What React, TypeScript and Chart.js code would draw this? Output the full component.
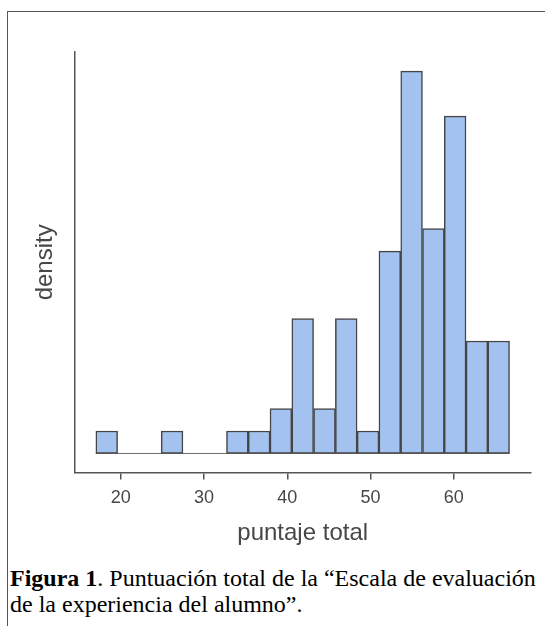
import React, { useEffect, useRef } from "react";
import { Chart, registerables } from "chart.js";

Chart.register(...registerables);

// Histogram bins of "puntaje total" (bin centres) and counts
const binCenters = [18.31, 20.92, 23.54, 26.16, 28.77, 31.39, 34.0, 36.62, 39.23, 41.85, 44.47, 47.08, 49.7, 52.31, 54.93, 57.55, 60.16, 62.78, 65.39];
const binCounts = [1, 0, 0, 1, 0, 0, 1, 1, 2, 6, 2, 6, 1, 9, 17, 10, 15, 5, 5];
const binRange = [17.0, 66.7];
const xTicks = [20, 30, 40, 50, 60];
const xLabel = "puntaje total";
const yLabel = "density";

const FILL = "#a4c2f0";
const EDGE = "#454545";
const AXIS = "#555555";
const TEXT = "#474747";
const SANS = "'Liberation Sans', Arial, sans-serif";

export default function App() {
  const ref = useRef<HTMLCanvasElement | null>(null);

  useEffect(() => {
    if (!ref.current) return;
    const chart = new Chart(ref.current, {
      type: "bar",
      data: {
        datasets: [
          {
            type: "bar",
            data: binCenters.map((x, i) => ({ x, y: binCounts[i] })),
            backgroundColor: FILL,
            borderColor: EDGE,
            borderWidth: 1.5,
            borderSkipped: false,
            barPercentage: 1,
            categoryPercentage: 1,
            order: 1,
          } as any,
          {
            type: "line",
            data: binRange.map((x) => ({ x, y: 0 })),
            borderColor: "#6a6a6a",
            borderWidth: 1,
            pointRadius: 0,
            order: 2,
          } as any,
        ],
      },
      options: {
        animation: false,
        responsive: false,
        devicePixelRatio: 1,
        layout: { padding: { left: 0, right: 14.6, top: 52, bottom: 12.5 } },
        plugins: { legend: { display: false }, tooltip: { enabled: false } },
        scales: {
          x: {
            type: "linear",
            min: 14.5,
            max: 69.2,
            offset: false,
            afterBuildTicks: (scale: any) => {
              scale.ticks = xTicks.map((v) => ({ value: v }));
            },
            grid: {
              display: true,
              offset: false,
              drawOnChartArea: false,
              drawTicks: true,
              tickLength: 7,
              color: AXIS,
              lineWidth: 1.5,
            },
            border: { display: true, color: AXIS, width: 1.5 },
            ticks: {
              color: TEXT,
              font: { family: SANS, size: 18 },
              padding: 8,
              maxRotation: 0,
              autoSkip: false,
            },
            title: {
              display: true,
              text: xLabel,
              color: TEXT,
              font: { family: SANS, size: 24 },
              padding: { top: 1.5, bottom: 0 },
            },
          },
          y: {
            type: "linear",
            min: -0.85,
            max: 17.85,
            grid: { display: false, drawTicks: false },
            border: { display: true, color: AXIS, width: 1.5 },
            ticks: { display: false },
            title: {
              display: true,
              text: yLabel,
              color: TEXT,
              font: { family: SANS, size: 24 },
              padding: { top: 30.6, bottom: 15.6 },
            },
          },
        },
      },
    });
    return () => chart.destroy();
  }, []);

  return (
    <div>
      <div
        style={{
          position: "absolute",
          left: 7,
          top: 11,
          width: 538,
          height: 615,
          borderLeft: "1px solid #555",
          borderTop: "1px solid #555",
          boxSizing: "border-box",
        }}
      />
      <canvas
        ref={ref}
        width={545}
        height={560}
        style={{ position: "absolute", left: 0, top: 0, width: 545, height: 560 }}
      />
      <div
        style={{
          position: "absolute",
          left: 10,
          top: 565,
          fontFamily: "'Liberation Serif', 'Times New Roman', serif",
          fontSize: 24,
          lineHeight: "26px",
          color: "#000",
          whiteSpace: "nowrap",
        }}
      >
        <b>Figura 1</b>. Puntuación total de la “Escala de evaluación
        <br />
        de la experiencia del alumno”.
      </div>
    </div>
  );
}
